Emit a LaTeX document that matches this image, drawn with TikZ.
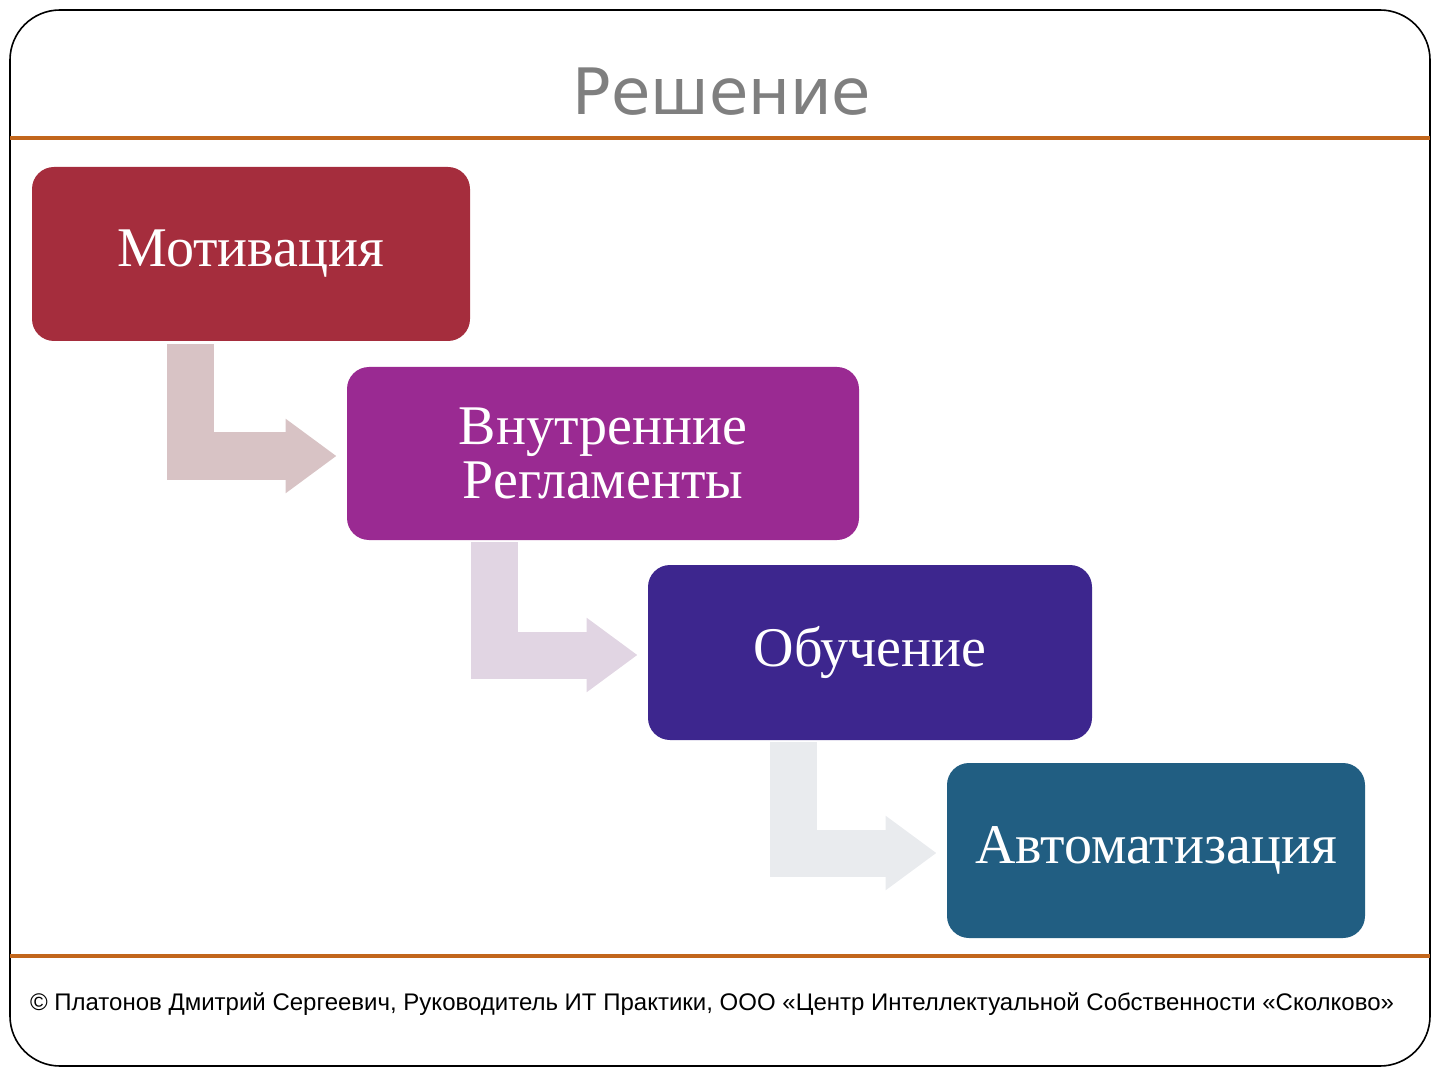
\documentclass[tikz,border=0pt]{standalone}
\usepackage{fontspec}
\setmainfont{Liberation Serif}
\newfontfamily\titlefont{DejaVu Sans}
\newfontfamily\footfont{Liberation Sans}
\usepackage{tikz}
\usetikzlibrary{arrows.meta,positioning,calc}
\usepackage{xcolor}
\definecolor{motcol}{HTML}{A52D3D}
\definecolor{regcol}{HTML}{9A2A92}
\definecolor{obucol}{HTML}{3D268E}
\definecolor{avtcol}{HTML}{215E82}
\definecolor{arrA}{HTML}{D8C3C5}
\definecolor{arrB}{HTML}{E1D5E3}
\definecolor{arrC}{HTML}{E9EBEE}
\definecolor{rulecol}{HTML}{C2661C}
\definecolor{titlecol}{HTML}{7F7F7F}

\begin{document}
\begin{tikzpicture}[x=0.5pt, y=-0.5pt,
  box/.style={rounded corners=11pt, text=white, align=center,
              inner sep=0pt, font=\fontsize{28}{27}\selectfont},
  flow/.style={line width=23.5pt,
               -{Triangle[length=25.5pt, width=35.5pt]}}]
  \useasboundingbox (0,0) rectangle (1440,1080);
  % рамка слайда
  \draw[line width=0.8pt, rounded corners=25pt] (10,10) rectangle (1430,1066);
  \draw[rulecol, line width=1.6pt] (10,138) -- (1430,138);
  \draw[rulecol, line width=1.6pt] (10,956) -- (1430,956);
  % заголовок
  \node[titlecol, font=\titlefont\fontsize{32}{34}\selectfont, anchor=base]
      (title) at (722,115) {Решение};
  % этапы
  \node[box, fill=motcol, minimum width=219pt, minimum height=87pt]
      (mot) at (251,254) {Мотивация};
  \node[box, fill=regcol, minimum width=256pt, minimum height=86.5pt]
      (reg) at (603,453.5) {Внутренние\\Регламенты};
  \node[box, fill=obucol, minimum width=222pt, minimum height=87.5pt]
      (obu) at (870,652.5) {Обучение};
  \node[box, fill=avtcol, minimum width=209pt, minimum height=87.5pt]
      (avt) at (1156,850.5) {Автоматизация};
  % стрелки
  \draw[flow, arrA] ($(mot.south west)+(159,3)$) |- ($(reg.west)+(-10,2.5)$);
  \draw[flow, arrB] ($(reg.south west)+(147.5,2)$) |- ($(obu.west)+(-10,2.5)$);
  \draw[flow, arrC] ($(obu.south west)+(146,2)$) |- ($(avt.west)+(-10,2.5)$);
  % подпись
  \node[font=\footfont\fontsize{12}{14}\selectfont, anchor=base]
      (foot) at (712,1010) {© Платонов Дмитрий Сергеевич, Руководитель ИТ Практики, ООО «Центр Интеллектуальной Собственности «Сколково»};
\end{tikzpicture}
\end{document}
